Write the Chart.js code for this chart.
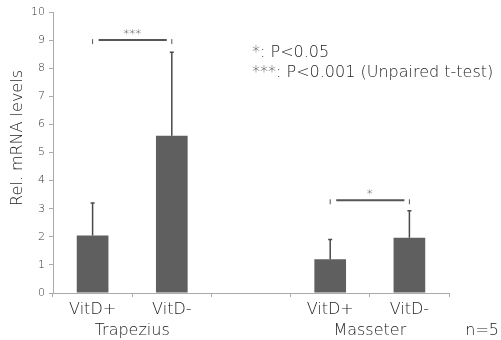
<!DOCTYPE html>
<html>
<head>
<meta charset="utf-8">
<script src="https://cdn.jsdelivr.net/npm/chart.js"></script>
<style>
  html, body { margin: 0; padding: 0; background: #fff; }
  #wrap { width: 501px; height: 340px; }
</style>
</head>
<body>
<div id="wrap"><canvas id="myBarChart" width="501" height="340"></canvas></div>
<script>
// du lieu doc tu hinh
const categories = ["VitD+", "VitD-", "", "VitD+", "VitD-"];
const means = [2.05, 5.6, null, 1.2, 1.97];
const sdUp = [1.15, 2.97, null, 0.7, 0.96];
const yTicks = [0, 1, 2, 3, 4, 5, 6, 7, 8, 9, 10];
const groupNames = ["Trapezius", "Masseter"];
const groupIdx = [[0, 1], [3, 4]];
const sigLabels = ["***", "*"];
const sigPairs = [[0, 1], [3, 4]];
const sigLevels = [9.0, 3.3];
const noteLines = ["*: P<0.05", "***: P<0.001 (Unpaired t-test)"];
const yTitle = "Rel. mRNA levels";

const FONT = "'DejaVu Sans', sans-serif";
const W = 200; // chu mong
const barColor = "#5f5f5f";
const textColor = "#222";

const extras = {
  id: "extras",
  afterDatasetsDraw(chart) {
    const c = chart.ctx;
    const x = chart.scales.x, y = chart.scales.y;
    c.save();
    // error bars (chi ve phia tren)
    c.strokeStyle = "#4a4a4a";
    c.lineWidth = 1.5;
    means.forEach((m, i) => {
      if (m == null) return;
      const px = x.getPixelForValue(i);
      const top = y.getPixelForValue(m + sdUp[i]);
      c.beginPath();
      c.moveTo(px, y.getPixelForValue(m));
      c.lineTo(px, top);
      c.moveTo(px - 2, top);
      c.lineTo(px + 2, top);
      c.stroke();
    });
    // significance brackets
    sigPairs.forEach((p, k) => {
      const x1 = x.getPixelForValue(p[0]);
      const x2 = x.getPixelForValue(p[1]);
      const py = y.getPixelForValue(sigLevels[k]);
      c.strokeStyle = "#555";
      c.lineWidth = 1;
      c.beginPath();
      c.moveTo(x1, py - 1); c.lineTo(x1, py + 4);
      c.moveTo(x2, py - 1); c.lineTo(x2, py + 4);
      c.stroke();
      c.lineWidth = 2;
      c.beginPath();
      c.moveTo(x1 + 6, py); c.lineTo(x2 - 5, py);
      c.stroke();
      c.fillStyle = "#333";
      c.font = W + " 12px " + FONT;
      c.textAlign = "center";
      c.textBaseline = "bottom";
      c.fillText(sigLabels[k], (x1 + x2) / 2, py + 1);
    });
    // ten nhom
    c.fillStyle = textColor;
    c.font = W + " 16px " + FONT;
    c.textAlign = "center";
    c.textBaseline = "middle";
    groupIdx.forEach((g, k) => {
      const cx = (x.getPixelForValue(g[0]) + x.getPixelForValue(g[1])) / 2;
      c.fillText(groupNames[k], cx, 331);
    });
    c.textAlign = "right";
    c.fillText("n=5", 499, 331);
    // chu thich
    c.textAlign = "left";
    c.fillText(noteLines[0], 252, 53);
    c.fillText(noteLines[1], 252, 73);
    // tieu de truc y
    c.save();
    c.translate(18, 138);
    c.rotate(-Math.PI / 2);
    c.textAlign = "center";
    c.fillText(yTitle, 0, 0);
    c.restore();
    c.restore();
  }
};

const ctx = document.getElementById("myBarChart").getContext("2d");
const myBarChart = new Chart(ctx, {
  type: "bar",
  data: {
    labels: categories,
    datasets: [{
      data: means,
      backgroundColor: barColor,
      borderWidth: 0,
      barPercentage: 0.4,
      categoryPercentage: 1.0
    }]
  },
  options: {
    responsive: false,
    animation: false,
    layout: { padding: { top: 12, right: 52, left: 0, bottom: 0 } },
    plugins: { legend: { display: false }, tooltip: { enabled: false } },
    scales: {
      x: {
        offset: true,
        grid: { display: true, offset: true, drawOnChartArea: false, drawTicks: true, tickLength: 4, color: "#aaa" },
        border: { color: "#aaa" },
        ticks: { color: textColor, font: { family: FONT, size: 16, weight: W }, padding: 3, maxRotation: 0, autoSkip: false },
        afterFit(s) { s.height = 47; }
      },
      y: {
        min: 0,
        max: 10,
        afterBuildTicks(s) { s.ticks = yTicks.map(v => ({ value: v })); },
        grid: { display: true, drawOnChartArea: false, drawTicks: true, tickLength: 4, color: "#aaa" },
        border: { color: "#aaa" },
        ticks: { color: "#333", font: { family: FONT, size: 11, weight: W }, padding: 4 },
        afterFit(s) { s.width = 53; }
      }
    }
  },
  plugins: [extras]
});
</script>
</body>
</html>
